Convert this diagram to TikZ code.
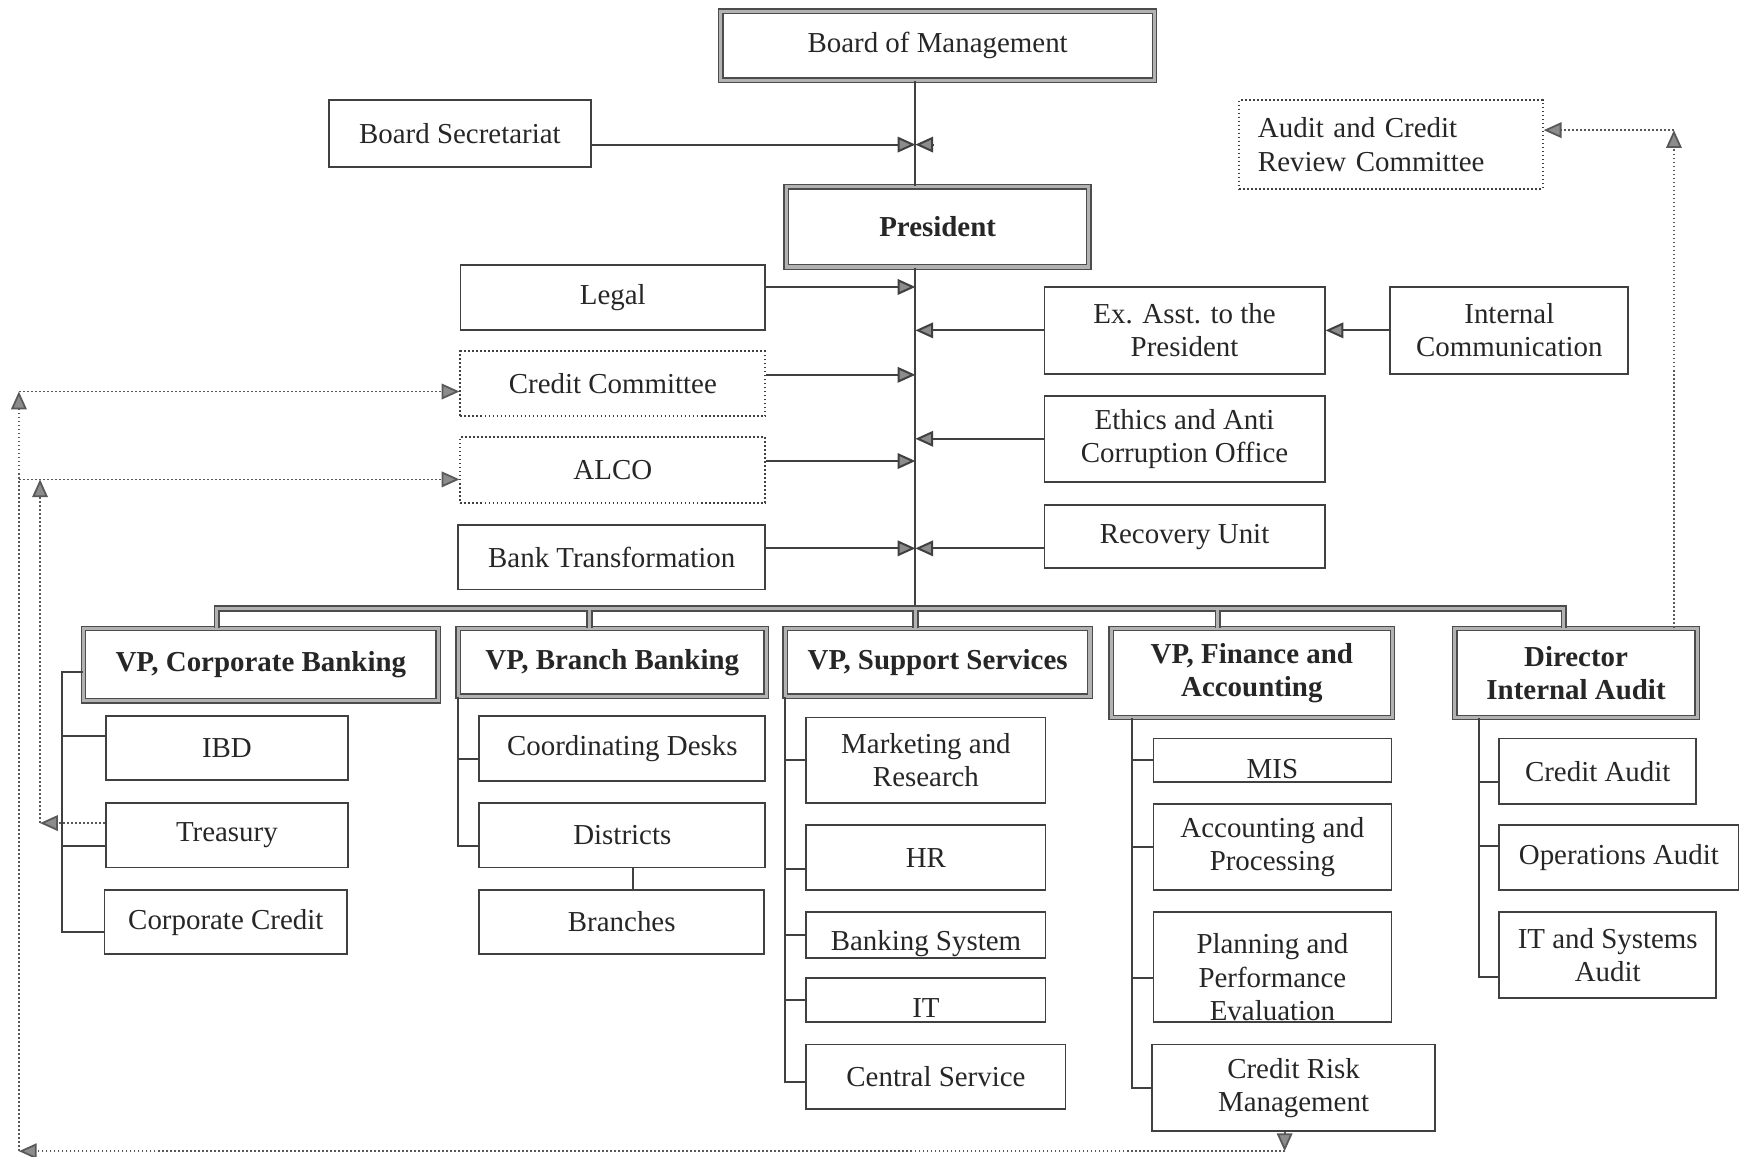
\documentclass[tikz,border=0pt]{standalone}
\usepackage{fontspec}
\setmainfont{Liberation Serif}
\usetikzlibrary{arrows.meta,calc,positioning}

\newcommand\boxfont{\fontsize{13}{15}\selectfont}

\tikzset{
  box/.style={draw=black!75, line width=0.8pt, rectangle, inner sep=0pt, align=center,
    text=black!85, font=\boxfont},
  sz/.style 2 args={minimum width=#1*0.5pt, minimum height=#2*0.5pt},
  headbox/.style={box, draw=black!70, line width=0.6pt, double=black!30, double distance=1.4pt},
  bold/.style={font=\boxfont\bfseries},
  dotbox/.style={box, densely dotted, line width=0.9pt},
  cutbox/.style 2 args={box, path picture={\node[draw=none, fill=none, align=center, text=black!85, font=\boxfont]
      at ([yshift=#2]path picture bounding box.center) {#1};}},
  link/.style={draw=black!75, line width=0.9pt},
  dline/.style={draw=black!65, line width=0.8pt, densely dotted},
  tri/.style={-{Triangle[length=8pt, width=7pt, fill=black!45]}},
  tril/.style={{Triangle[length=8pt, width=7pt, fill=black!45]}-},
}

\begin{document}
\begin{tikzpicture}[x=0.5pt,y=-0.5pt]
\useasboundingbox (0,0) rectangle (1568,1040);

% top part
\node[headbox, sz={390}{62}] (bom) at (843,41) {Board of Management};
\node[box, sz={235}{60}] (bsec) at (413.5,120) {Board Secretariat};
\node[dotbox, sz={273}{80}, align=left, text width=119.5pt] (acrc) at (1250.5,130) {Audit and Credit\\Review Committee};
\node[headbox, bold, sz={272}{72}] (pres) at (843,204) {President};
\node[box, sz={274}{59}] (legal) at (551,267.5) {Legal};
\node[box, sz={252}{78}] (exa) at (1065,297) {Ex. Asst. to the\\President};
\node[box, sz={214}{78}] (icom) at (1357,297) {Internal\\Communication};
\node[dotbox, sz={274}{58}] (ccom) at (551,345) {Credit Committee};
\node[box, sz={252}{77}] (ethic) at (1065,394.5) {Ethics and Anti\\Corruption Office};
\node[dotbox, sz={274}{59}] (alco) at (551,422.5) {ALCO};
\node[box, sz={252}{57}] (recov) at (1065,482.5) {Recovery Unit};
\node[box, sz={276}{58}] (btr) at (550,501) {Bank Transformation};

% vice presidents
\node[headbox, bold, sz={319}{65}] (vpcorp) at (234.5,597.5) {VP, Corporate Banking};
\node[headbox, bold, sz={277}{61}] (vpbr) at (550.5,595.5) {VP, Branch Banking};
\node[headbox, bold, sz={274}{61}] (vpsup) at (843,595.5) {VP, Support Services};
\node[headbox, bold, sz={253}{80}] (vpfin) at (1125.5,605) {VP, Finance and\\Accounting};
\node[headbox, bold, sz={218}{80}] (dia) at (1417,605) {Director\\Internal Audit};

% departments
\node[box, sz={218}{57}] (ibd) at (204,672.5) {IBD};
\node[box, sz={218}{58}] (treas) at (204,751) {Treasury};
\node[box, sz={218}{58}] (ccred) at (203,829) {Corporate Credit};
\node[box, sz={257}{58}] (cdesk) at (559.5,673) {Coordinating Desks};
\node[box, sz={257}{58}] (dist) at (559.5,751) {Districts};
\node[box, sz={256}{58}] (bran) at (559,829) {Branches};
\node[box, sz={215}{77}] (mkt) at (832.5,683.5) {Marketing and\\Research};
\node[box, sz={215}{58}] (hr) at (832.5,771) {HR};
\node[cutbox={Banking System}{-4pt}, sz={215}{41}] (bsys) at (832.5,840.5) {};
\node[cutbox={IT}{-3.5pt}, sz={215}{40}] (itx) at (832.5,899) {};
\node[box, sz={233}{58}] (cserv) at (841.5,968) {Central Service};
\node[cutbox={MIS}{-4pt}, sz={214}{39}] (mis) at (1144,683.5) {};
\node[box, sz={214}{77}] (accp) at (1144,761.5) {Accounting and\\Processing};
\node[cutbox={Planning and\\Performance\\Evaluation}{-4.5pt}, sz={214}{99}] (plan) at (1144,869.5) {};
\node[box, sz={254}{78}] (crm) at (1163,978) {Credit Risk\\Management};
\node[box, sz={177}{59}] (caud) at (1436.5,693.5) {Credit Audit};
\node[box, sz={215}{58}] (opsa) at (1455.5,771) {Operations Audit};
\node[box, sz={195}{77}] (itsa) at (1445.5,858.5) {IT and Systems\\Audit};

\coordinate (mid) at (823,0);
\coordinate (busl) at (195,547);
\coordinate (busr) at (1406,547);

% main line
\draw[link] (bom.south -| mid) -- (pres.north -| mid);
\draw[link] (pres.south -| mid) -- (mid |- busl);

\draw[link,tri] ([yshift=-5pt]bsec.east) coordinate (bs) -- (bs -| mid);
\draw[link,tril] (bs -| mid) -- ++(17,0);
\draw[link,tri] ([yshift=4.75pt]legal.east) coordinate (lg) -- (lg -| mid);
\draw[link,tri] (exa.west) -- (exa.west -| mid);
\draw[link,tri] (icom.west) -- (exa.east);
\draw[link,tri] ([yshift=4pt]ccom.east) coordinate (cc) -- (cc -| mid);
\draw[link,tri] (ethic.west) -- (ethic.west -| mid);
\draw[link,tri] ([yshift=4pt]alco.east) coordinate (al) -- (al -| mid);
\draw[link,tri] ([yshift=4pt]btr.east) coordinate (bt) -- (bt -| mid);
\draw[link,tri] (recov.west |- bt) -- (bt -| mid);

% bus to the vice presidents
\foreach \w/\c in {2.8pt/black!70,1.4pt/black!30}
  \draw[line width=\w, draw=\c] (busl |- vpcorp.north) -- (busl) -- (busr) -- (busr |- dia.north)
    ([xshift=-10.25pt]vpbr.north) -- ++(0,-18)
    (vpsup.north -| mid) -- ++(0,-18)
    ([xshift=-15.25pt]vpfin.north) -- ++(0,-18);

% department lines
\draw[link] ([yshift=-3.25pt]vpcorp.west) -- ++(-19,0) |- ([yshift=-4.5pt]ccred.west);
\foreach \n/\s in {ibd/5.25,treas/-5}
  \draw[link] ([yshift=\s pt]\n.west) -- ++(-39,0);
\draw[link] (vpbr.south west) |- ([yshift=-5pt]dist.west);
\draw[link] ([yshift=-4.5pt]cdesk.west) -- ++(-19,0);
\draw[link] ([xshift=4.75pt]dist.south) -- ([xshift=4.75pt]dist.south |- bran.north);
\draw[link] (vpsup.south west) |- ([yshift=-2.5pt]cserv.west);
\foreach \n/\s in {mkt/0,hr/-5,bsys/0,itx/0}
  \draw[link] ([yshift=\s pt]\n.west) -- ++(-19,0);
\draw[link] ([xshift=9.5pt]vpfin.south west) |- (crm.west);
\foreach \n/\s in {mis/0,accp/0,plan/-4.75}
  \draw[link] ([yshift=\s pt]\n.west) -- ++(-19,0);
\draw[link] ([xshift=11pt]dia.south west) |- ([yshift=-9.75pt]itsa.west);
\foreach \n/\s in {caud/-4.75,opsa/5}
  \draw[link] ([yshift=\s pt]\n.west) -- ++(-18,0);

% dotted reporting lines
\coordinate (lane0) at (17,352);
\coordinate (lane1) at (36,431);
\coordinate (low) at (1155,1035);
\coordinate (lane2) at (1505,117);
\draw[dline,tri] ([yshift=5.5pt]treas.west) coordinate (tr) -- (tr -| lane1);
\draw[dline,tri] (tr -| lane1) -- (lane1);
\draw[dline,tri] (lane1 -| lane0) -- (alco.west |- lane1);
\draw[dline,tri] (crm.south -| low) -- (low);
\draw[dline,tri] (low) -- (low -| lane0);
\draw[dline,tri] (low -| lane0) -- (lane0);
\draw[dline,tri] (lane0) -- (ccom.west |- lane0);
\draw[dline,tri] (dia.north -| lane2) -- (lane2);
\draw[dline,tri] (lane2) -- (acrc.east |- lane2);
\end{tikzpicture}
\end{document}
